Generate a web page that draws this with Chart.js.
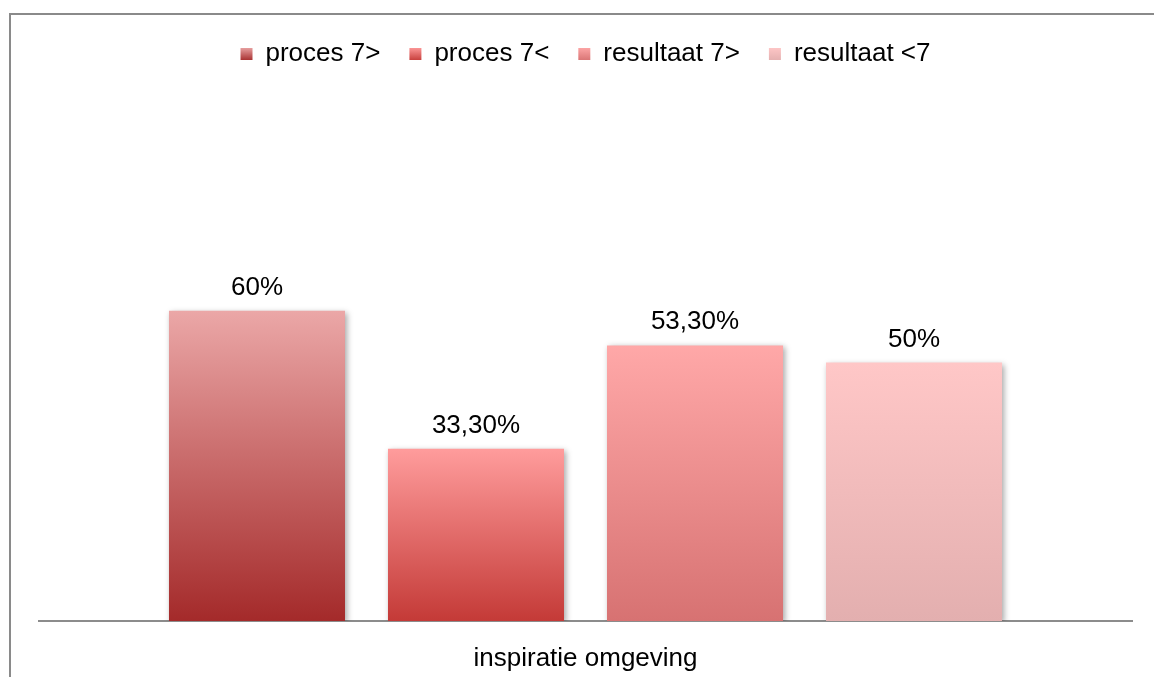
<!DOCTYPE html>
<html>
<head>
<meta charset="utf-8">
<script src="https://cdn.jsdelivr.net/npm/chart.js@4/dist/chart.umd.min.js"></script>
<style>
  html, body { margin: 0; padding: 0; background: #fff; overflow: hidden; }
  #frame {
    position: absolute; left: 9px; top: 13px; width: 1200px; height: 700px;
    border-top: 2px solid #8a8a8a; border-left: 2px solid #8a8a8a;
  }
  #wrap { position: absolute; left: 0; top: 0; width: 1154px; height: 677px; }
</style>
</head>
<body>
<div id="frame"></div>
<div id="wrap"><canvas id="chart"></canvas></div>
<script>
const categories = ["inspiratie omgeving"];
const seriesNames = ["proces 7>", "proces 7<", "resultaat 7>", "resultaat <7"];
const seriesValues = [0.60, 0.333, 0.533, 0.50];
// gradient colours per series: [top, bottom]
const seriesTop = ["#eba7a7", "#ff9c9c", "#ffa8a8", "#ffc7c7"];
const seriesBottom = ["#a42a2a", "#c43a37", "#d77272", "#e3afaf"];

const FONT = "'Liberation Sans', Arial, sans-serif";
const FONT_SIZE = 26;
const PAD_TOP = 12;
const PLOT_TOP = 104;

function pct(v) {
  return (v * 100).toFixed(2).replace(".", ",").replace(/,00$/, "") + "%";
}

function barGradient(ctx, i) {
  const chart = ctx.chart;
  const y = chart.scales.y;
  if (!y || !chart.chartArea) return seriesTop[i];
  const top = y.getPixelForValue(seriesValues[i]);
  const bottom = y.getPixelForValue(0);
  const g = chart.ctx.createLinearGradient(0, top, 0, bottom);
  g.addColorStop(0, seriesTop[i]);
  g.addColorStop(1, seriesBottom[i]);
  return g;
}

// legend block takes the whole band above the plot
const legendBand = {
  id: "legendBand",
  afterInit(chart) {
    const lg = chart.legend;
    const fit = lg.fit.bind(lg);
    lg.fit = function () {
      fit();
      this.height = PLOT_TOP - PAD_TOP;
    };
  }
};

// soft drop shadow under the bars
const barShadow = {
  id: "barShadow",
  beforeDatasetDraw(chart) {
    const c = chart.ctx;
    c.save();
    c.shadowColor = "rgba(0,0,0,0.35)";
    c.shadowBlur = 6;
    c.shadowOffsetX = 2;
    c.shadowOffsetY = 2;
  },
  afterDatasetDraw(chart) {
    chart.ctx.restore();
  }
};

// value labels above each bar
const valueLabels = {
  id: "valueLabels",
  afterDatasetsDraw(chart) {
    const c = chart.ctx;
    c.save();
    c.font = FONT_SIZE + "px " + FONT;
    c.fillStyle = "#000";
    c.textAlign = "center";
    c.textBaseline = "alphabetic";
    chart.data.datasets.forEach((ds, i) => {
      const bar = chart.getDatasetMeta(i).data[0];
      c.fillText(pct(ds.data[0]), bar.x, bar.y - 16);
    });
    c.restore();
  }
};

// legend boxes get the same vertical gradient as their bars
const legendGradient = {
  id: "legendGradient",
  beforeDraw(chart) {
    const lg = chart.legend;
    if (!lg || !lg.legendHitBoxes) return;
    lg.legendItems.forEach((item, i) => {
      const hb = lg.legendHitBoxes[i];
      const mid = hb.top + hb.height / 2;
      const g = chart.ctx.createLinearGradient(0, mid - 7, 0, mid + 7);
      g.addColorStop(0, seriesTop[i]);
      g.addColorStop(1, seriesBottom[i]);
      item.fillStyle = g;
    });
  }
};

new Chart(document.getElementById("chart"), {
  type: "bar",
  data: {
    labels: categories,
    datasets: seriesNames.map((name, i) => ({
      label: name,
      data: [seriesValues[i]],
      backgroundColor: (ctx) => barGradient(ctx, i),
      borderWidth: 0,
      categoryPercentage: 0.8015,
      barPercentage: 0.8037
    }))
  },
  options: {
    responsive: true,
    maintainAspectRatio: false,
    animation: false,
    layout: { padding: { left: 39, right: 22, top: PAD_TOP, bottom: 0 } },
    plugins: {
      tooltip: { enabled: false },
      legend: {
        position: "top",
        labels: {
          color: "#000",
          font: { family: FONT, size: FONT_SIZE },
          boxWidth: 12,
          boxHeight: 12,
          padding: 29
        }
      }
    },
    scales: {
      x: {
        grid: { display: false },
        border: { display: true, color: "#8c8c8c", width: 2 },
        ticks: { color: "#000", font: { family: FONT, size: FONT_SIZE }, padding: 14 },
        afterFit(scale) { scale.height = 56; }
      },
      y: {
        display: false,
        min: 0,
        max: 1
      }
    }
  },
  plugins: [legendBand, barShadow, valueLabels, legendGradient]
});
</script>
</body>
</html>
